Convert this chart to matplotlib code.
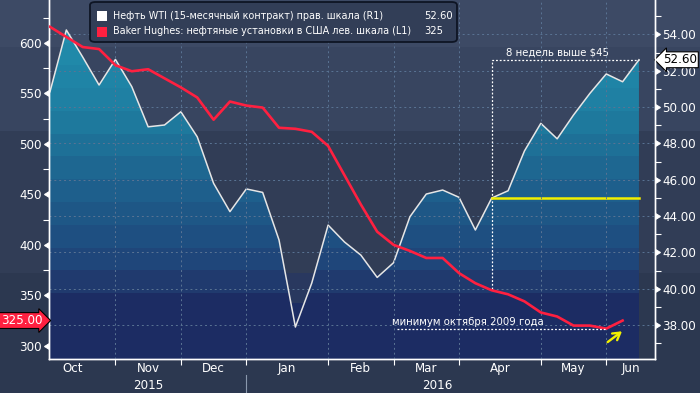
import numpy as np
import pandas as pd
import matplotlib
matplotlib.use("Agg")
import matplotlib.pyplot as plt
import matplotlib.markers as mmarkers
from matplotlib.patches import Polygon, Rectangle, FancyBboxPatch
from matplotlib.colors import LinearSegmentedColormap, ListedColormap

# --- data (weekly) ---
dates = pd.date_range("2015-10-09", periods=37, freq="7D")
wti = [50.84, 54.24, 52.75, 51.21, 52.62, 51.12, 48.91, 49.01, 49.74, 48.36,
       45.80, 44.24, 45.49, 45.30, 42.68, 37.89, 40.31, 43.50, 42.57, 41.85,
       40.62, 41.43, 43.96, 45.21, 45.43, 45.03, 43.23, 44.99, 45.39, 47.58,
       49.10, 48.25, 49.56, 50.75, 51.82, 51.39, 52.60]
rigs = [616, 606, 596, 594, 578, 572, 574, 565, 556, 546,
        524, 542, 538, 536, 516, 515, 512, 498, 469, 440,
        413, 400, 394, 387, 387, 372, 362, 355, 351, 344,
        333, 329, 320, 320, 317, 325, np.nan]
month_names = ["Oct", "Nov", "Dec", "Jan", "Feb", "Mar", "Apr", "May", "Jun"]
years = ["2015", "2016"]
level_45 = 45.0
low_2009 = 316.5
legend_rows = [("Нефть WTI (15-месячный контракт) прав. шкала (R1)", "52.60", "white"),
               ("Baker Hughes: нефтяные установки в США лев. шкала (L1)", "325", "#ff2040")]

x = np.arange(len(dates))
month_start = [i for i in range(1, len(dates)) if dates[i].month != dates[i - 1].month]

plt.rcParams["font.family"] = ["DejaVu Sans"]
W, H = 700, 393
fig = plt.figure(figsize=(7, 3.93), dpi=100)

# background bands (whole figure)
bg = fig.add_axes([0, 0, 1, 1], zorder=0)
bg.set_xlim(0, W); bg.set_ylim(H, 0); bg.axis("off")
for y0, y1, c in [(0, 47, "#3d4a65"), (47, 131, "#384560"), (131, 273, "#313d56"), (273, H, "#2c3850")]:
    bg.add_patch(Rectangle((0, y0), W, y1 - y0, color=c, lw=0))

ax = fig.add_axes([49 / W, 1 - 359 / H, 606 / W, 359 / H])
ax2 = ax.twinx()
ax.set_zorder(2); ax2.set_zorder(1)
ax.patch.set_visible(False); ax2.patch.set_visible(False)

xlo, xhi = -0.06, 36.98
rlo, rhi = 36.13, 55.89
llo, lhi = 286.9, 642.6

# plot-area bottom bands
ax2.add_patch(Rectangle((xlo, rlo), x[-1] - xlo, 39.21 - rlo, color="#1c2c63", lw=0, zorder=0.5))
ax2.add_patch(Rectangle((xlo, 39.21), x[-1] - xlo, 40.86 - 39.21, color="#29385f", lw=0, zorder=0.5))

# gradient fill under WTI, stepped bands
anchors = [(36.0, "#1c2c63"), (39.2, "#1c2c63"), (40.5, "#213c70"), (42.0, "#1f4a7e"),
           (44.0, "#1e5686"), (47.0, "#1e6a93"), (50.0, "#1f7fa2"), (56.0, "#2294b2")]
cm = LinearSegmentedColormap.from_list("f", [((v - 36) / 20, c) for v, c in anchors])
nb = 16
steps = ListedColormap([cm((i + 0.5) / nb) for i in range(nb)])
grad = np.linspace(0, 1, 400).reshape(-1, 1)
verts = np.vstack([[x[0], rlo], np.column_stack([x, wti]), [x[-1], rlo]])
clip = Polygon(verts, closed=True, transform=ax2.transData, fc="none", ec="none")
ax2.add_patch(clip)
img = ax2.imshow(grad, extent=[x[0], x[-1], 36, 56], origin="lower", aspect="auto",
                 cmap=steps, zorder=1, interpolation="nearest")
img.set_clip_path(clip)

ax2.plot(x, wti, color="#e6e6e6", lw=1.1, zorder=3)
ax.plot(x, rigs, color="#ff2040", lw=1.9, zorder=3)

# annotations
dot = (0, (1.5, 1.5))
ax2.plot([27, 27, x[-1]], [40.0, wti[-1], wti[-1]], color="white", lw=0.9, ls=dot, zorder=4)
ax2.plot([27, x[-1]], [level_45, level_45], color="#f2f000", lw=1.8, zorder=4)
ax2.text(31.05, 52.75, "8 недель выше $45", color="white", fontsize=7.3, ha="center", va="bottom", zorder=5)
ax.plot([21.2, 34], [low_2009, low_2009], color="white", lw=0.9, ls=dot, zorder=4)
ax.text(20.9, 323.5, "минимум октября 2009 года", color="white", fontsize=7.3, ha="left", va="center", zorder=5)
ax.annotate("", xy=(35.1, 316), xytext=(33.95, 302),
            arrowprops=dict(arrowstyle="->,head_length=0.5,head_width=0.3", color="#f2f000", lw=1.7))

# axes limits and ticks
ax.set_xlim(xlo, xhi)
ax2.set_ylim(rlo, rhi)
ax.set_ylim(llo, lhi)

grid_c = "#5a7494"
ax2.set_yticks(np.arange(38, 55, 2))
ax2.set_yticks(np.arange(37, 56, 2), minor=True)
ax2.set_yticklabels([f"{v:.2f}" for v in np.arange(38, 55, 2)])
ax2.yaxis.grid(True, which="major", color=grid_c, lw=0.7, ls=(0, (2, 3)))
ax2.tick_params(axis="y", which="major", colors="white", labelsize=8.6, pad=1, length=4)
ax2.tick_params(axis="y", which="minor", colors="white", length=4, width=0.8)

ax.set_yticks(np.arange(300, 601, 50))
ax.set_yticks(np.arange(325, 626, 50), minor=True)
ax.tick_params(axis="y", which="major", colors="white", labelsize=8.6, pad=1, length=4)
ax.tick_params(axis="y", which="minor", colors="white", length=4, width=0.8)

ax.set_xticks(month_start)
ax.set_xticklabels([])
edges = [-1.2] + month_start + [37]
mids = [(edges[i] + edges[i + 1]) / 2 for i in range(len(edges) - 1)]
ax.set_xticks(mids, minor=True)
ax.set_xticklabels(month_names, minor=True)
ax.tick_params(axis="x", which="major", colors="white", length=4, width=0.8)
ax.tick_params(axis="x", which="minor", colors="white", length=0, labelsize=8.6, pad=2)
ax.xaxis.grid(True, which="major", color=grid_c, lw=0.7, ls=(0, (2, 3)))
ax.set_axisbelow(True)

for t in ax2.yaxis.get_major_ticks():
    t.tick2line.set_marker(mmarkers.CARETRIGHTBASE)
    t.tick2line.set_markersize(4.5)
for t in ax.yaxis.get_major_ticks():
    t.tick1line.set_marker(mmarkers.CARETLEFTBASE)
    t.tick1line.set_markersize(4.5)

for a in (ax, ax2):
    for s in a.spines.values():
        s.set_color("white"); s.set_linewidth(1)
    a.spines["top"].set_visible(False)

# years
xt = ax.get_xaxis_transform()
ax.text(6, -0.075, years[0], transform=xt, color="white", fontsize=8.6, ha="center", va="center")
ax.text(23.65, -0.075, years[1], transform=xt, color="white", fontsize=8.6, ha="center", va="center")
ax.plot([12, 12], [-0.045, -0.1], transform=xt, color="#8a98ad", lw=0.8, clip_on=False)

# last value tags
ax2.text(1.013, wti[-1], f"{wti[-1]:.2f}", transform=ax2.get_yaxis_transform(), color="black",
         fontsize=8.6, ha="left", va="center", zorder=6,
         bbox=dict(boxstyle="larrow,pad=0.12", fc="white", ec="black", lw=0.8))
ax.text(-0.011, rigs[-2], f"{rigs[-2]:.2f}", transform=ax.get_yaxis_transform(), color="white",
        fontsize=8.6, ha="right", va="center", zorder=6,
        bbox=dict(boxstyle="rarrow,pad=0.12", fc="#ff2040", ec="black", lw=0.8))

# legend box
fig.patches.append(FancyBboxPatch((90 / W, 1 - 42 / H), 367 / W, 40 / H,
                                  boxstyle="round,pad=0,rounding_size=0.008",
                                  transform=fig.transFigure, fc="#323e57", ec="#0e1524", lw=1.3, zorder=10))
for i, (label, val, col) in enumerate(legend_rows):
    yc = 16 + i * 15.5
    fig.patches.append(Rectangle((97 / W, 1 - (yc + 5) / H), 10 / W, 10 / H, transform=fig.transFigure,
                                 fc=col, ec="none", zorder=11))
    fig.text(113 / W, 1 - yc / H, label, color="white", fontsize=6.95, ha="left", va="center", zorder=12)
    fig.text(424 / W, 1 - yc / H, val, color="white", fontsize=7.2, ha="left", va="center", zorder=12)

fig.savefig("out.png", dpi=100)
